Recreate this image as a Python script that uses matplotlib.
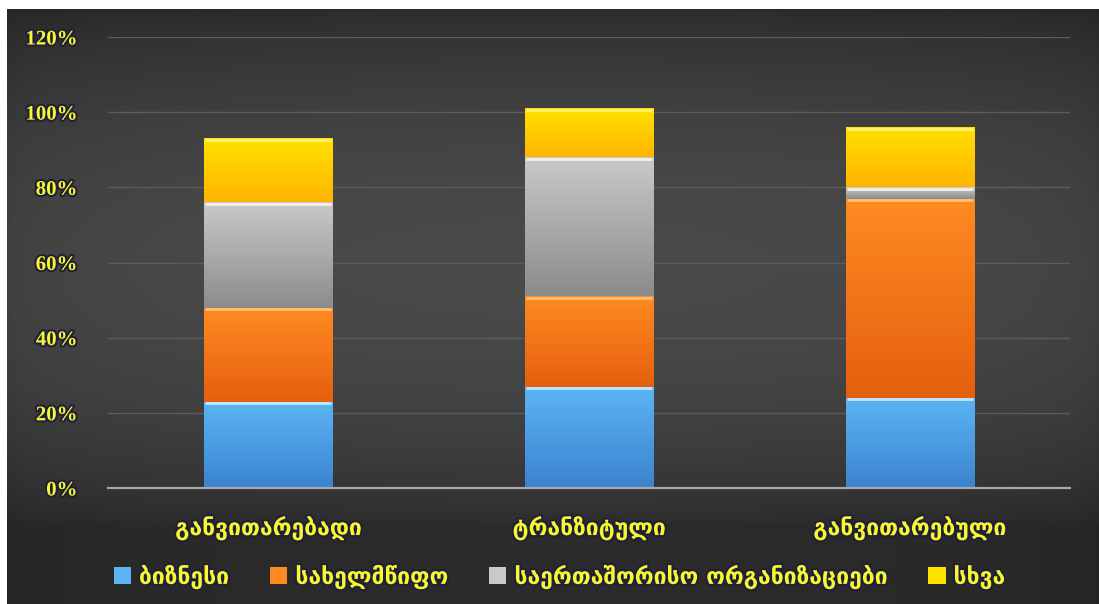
import numpy as np
import matplotlib
matplotlib.use("Agg")
import matplotlib.pyplot as plt
import matplotlib.patheffects as pe
from matplotlib.colors import LinearSegmentedColormap
from matplotlib.patches import Patch

# data (shares)
categories = ["განვითარებადი", "ტრანზიტული", "განვითარებული"]
series_names = ["ბიზნესი", "სახელმწიფო", "საერთაშორისო ორგანიზაციები", "სხვა"]
business = [0.23, 0.27, 0.24]
state = [0.25, 0.24, 0.53]
intl_orgs = [0.28, 0.37, 0.03]
other = [0.17, 0.13, 0.16]
yticks = [0, 0.2, 0.4, 0.6, 0.8, 1.0, 1.2]

series = [business, state, intl_orgs, other]
# (top colour, bottom colour) of each gradient
grads = [("#5cb4f4", "#3b84cf"),
         ("#ff8a22", "#e5600e"),
         ("#c9c9c9", "#8c8c8c"),
         ("#ffe200", "#ffb400")]
highlights = ["#bfe8ff", "#ffc070", "#f4f0e8", "#fff070"]

yellow = "#f8f830"
fonts = ["Liberation Serif", "DejaVu Sans"]
geo_fonts = ["DejaVu Sans"]
glow = [pe.withStroke(linewidth=3, foreground="#20203a")]

fig = plt.figure(figsize=(10.99, 6.04), dpi=100)
fig.patch.set_facecolor("white")

# dark gradient background panel
bg = fig.add_axes([7 / 1099, 0, 1 - 7 / 1099, 1 - 9 / 604])
bg.set_axis_off()
yy = np.linspace(0, 1, 200)[:, None]
xx = np.linspace(0, 1, 300)[None, :]
vert = 0.17 + 0.12 * np.sin(np.pi * np.clip(yy * 1.15, 0, 1)) ** 0.7
horiz = 0.85 + 0.15 * np.sin(np.pi * xx) ** 0.4
shade = vert * horiz
bg.imshow(np.dstack([shade] * 3), aspect="auto", extent=[0, 1, 0, 1],
          interpolation="bilinear")

ax = fig.add_axes([108 / 1099, 1 - 488 / 604, (1070 - 108) / 1099,
                   (488 - 37) / 604])
ax.patch.set_alpha(0)

x = np.arange(len(categories))
width = 0.4
bottom = np.zeros(len(categories))
for vals, (ctop, cbot), hl in zip(series, grads, highlights):
    bars = ax.bar(x, vals, width, bottom=bottom, color=cbot, zorder=3,
                  linewidth=0)
    cmap = LinearSegmentedColormap.from_list("g", [cbot, ctop])
    for b in bars:
        bx, by = b.get_x(), b.get_y()
        bw, bh = b.get_width(), b.get_height()
        grad = np.linspace(0, 1, 64)[:, None]
        im = ax.imshow(grad, cmap=cmap, aspect="auto", origin="lower",
                       extent=[bx, bx + bw, by, by + bh], zorder=4,
                       interpolation="bilinear")
        im.set_clip_path(b)
        ax.hlines(by + bh - 0.004, bx + 0.004, bx + bw - 0.004, color=hl,
                  lw=2, zorder=5)
    bottom += np.array(vals)

ax.set_xlim(-0.5, len(categories) - 0.5)
ax.set_ylim(0, 1.2)
ax.set_yticks(yticks)
ax.set_yticklabels([f"{int(round(t * 100))}%" for t in yticks])
ax.set_xticks(x)
ax.set_xticklabels(categories)
ax.grid(axis="y", color="#5c5c5c", lw=1, zorder=0)
ax.set_axisbelow(True)
for s in ["top", "right", "left"]:
    ax.spines[s].set_visible(False)
ax.spines["bottom"].set_color("#a8a8a8")
ax.spines["bottom"].set_linewidth(1.6)
ax.spines["bottom"].set_zorder(6)
ax.tick_params(axis="both", length=0)
ax.tick_params(axis="y", pad=22)
ax.tick_params(axis="x", pad=20)
for lab in ax.get_yticklabels():
    lab.set_family(fonts)
    lab.set_fontsize(15)
    lab.set_fontweight("bold")
    lab.set_color(yellow)
    lab.set_path_effects(glow)
for lab in ax.get_xticklabels():
    lab.set_family(geo_fonts)
    lab.set_fontsize(16.5)
    lab.set_fontweight("bold")
    lab.set_color(yellow)
    lab.set_path_effects(glow)

handles = [Patch(facecolor=g[0], edgecolor="none") for g in grads]
leg = fig.legend(handles, series_names, loc="center", ncol=4,
                 bbox_to_anchor=(0.509, 1 - 577 / 604), frameon=False,
                 handlelength=0.75, handleheight=0.75, columnspacing=1.8,
                 handletextpad=0.35,
                 prop={"family": geo_fonts, "size": 16.5, "weight": "bold"})
for t in leg.get_texts():
    t.set_color(yellow)
    t.set_path_effects(glow)

fig.savefig("out.png", dpi=100, facecolor=fig.get_facecolor())
